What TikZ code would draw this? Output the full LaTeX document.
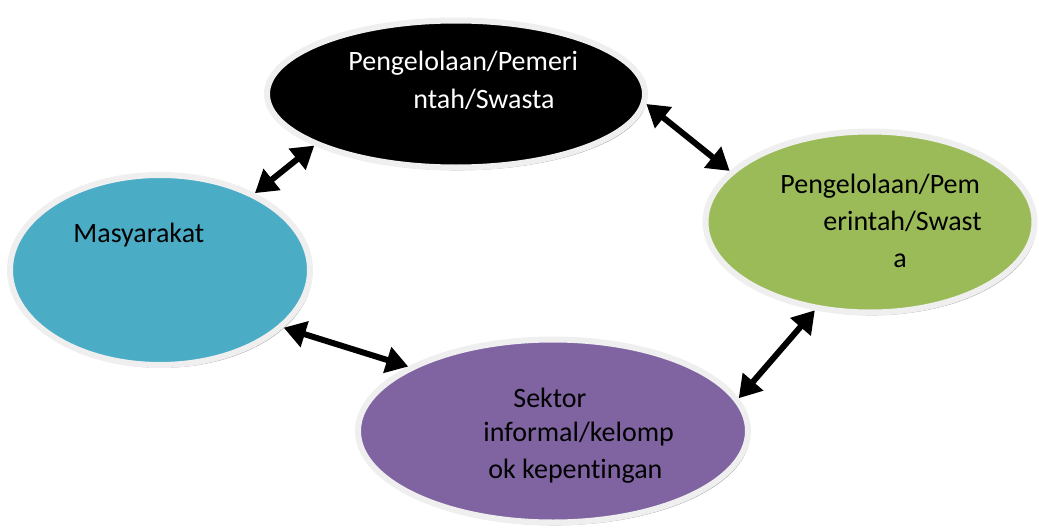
\documentclass[tikz,border=0pt]{standalone}
\usepackage{fontspec}
\setmainfont{Carlito}[Ligatures=NoCommon]
\usepackage{tikz}
\usetikzlibrary{shapes}
\usetikzlibrary{shadows}
\usetikzlibrary{arrows.meta}
\definecolor{biru}{HTML}{4BACC6}
\definecolor{hijau}{HTML}{9BBB59}
\definecolor{ungu}{HTML}{8064A2}
\definecolor{tepi}{HTML}{EFEFEF}

\begin{document}
\begin{tikzpicture}[x=0.5pt,y=-0.5pt,
  elips/.style={ellipse,draw=tepi,line width=3pt,inner sep=0pt,
    drop shadow={shadow xshift=1pt,shadow yshift=-1.4pt,fill=black!55,opacity=.7}},
  teks/.style={anchor=base west,inner sep=0pt,font=\fontsize{14}{17}\selectfont},
  panah/.style={{Triangle[length=11pt,width=13pt]}-{Triangle[length=11pt,width=13pt]},line width=3pt}]
  \useasboundingbox (0,0) rectangle (1039,530);
  % ellipses
  \node[elips,fill=black,minimum width=189pt,minimum height=73.5pt] (atas) at (456,94) {};
  \node[elips,fill=biru,minimum width=150pt,minimum height=95pt] (masy) at (160,270) {};
  \node[elips,fill=hijau,minimum width=164.5pt,minimum height=90.5pt] (kanan) at (870,222) {};
  \node[elips,fill=ungu,minimum width=195pt,minimum height=91.5pt] (sektor) at (553,431) {};
  % texts
  \node[teks,white] (atas1) at (348,70) {Pengelolaan/Pemeri};
  \node[teks,white] (atas2) at (413,108) {ntah/Swasta};
  \node[teks] (masy1) at (73,242) {Masyarakat};
  \node[teks] (kanan1) at (780,193) {Pengelolaan/Pem};
  \node[teks] (kanan2) at (823,230) {erintah/Swast};
  \node[teks] (kanan3) at (893,267) {a};
  \node[teks] (sektor1) at (513,407) {Sektor};
  \node[teks] (sektor2) at (483,441) {informal/kelomp};
  \node[teks] (sektor3) at (488,478) {ok kepentingan};
  % arrows
  \draw[panah] (atas.200) -- (masy.39);
  \draw[panah] (atas.-3) -- (kanan.160);
  \draw[panah] (masy.-25) -- (sektor.156);
  \draw[panah] (kanan.238) -- (sektor.10);
\end{tikzpicture}
\end{document}
